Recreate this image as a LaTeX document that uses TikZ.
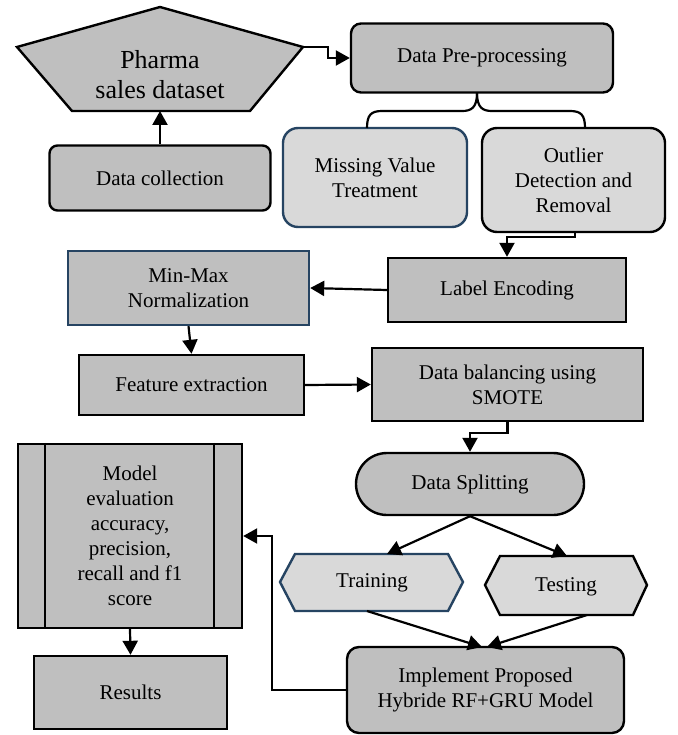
\documentclass[tikz,border=0pt]{standalone}
\usepackage{fontspec}
\setmainfont{Liberation Serif}
\usetikzlibrary{arrows.meta}
\definecolor{darkfill}{RGB}{191,191,191}
\definecolor{lightfill}{RGB}{217,217,217}
\definecolor{bluedge}{RGB}{38,68,98}
\begin{document}
\begin{tikzpicture}[x=1pt,y=-1pt,
  box/.style={draw, line width=2.4pt, fill=darkfill, align=center, inner sep=0pt,
    font=\fontsize{21}{25}\selectfont},
  lbox/.style={box, fill=lightfill},
  bedge/.style={draw=bluedge},
  txt/.style={align=center, inner sep=0pt, font=\fontsize{21}{25}\selectfont},
  conn/.style={line width=2.2pt, -{Triangle[length=14pt,width=15pt]}},
  plain/.style={line width=2.2pt},
]
\useasboundingbox[fill=white] (0,0) rectangle (677,735);

% pentagon
\filldraw[fill=darkfill, line width=2.4pt, line join=miter]
  (17,47) -- (160,7) -- (303,47) -- (250,111) -- (72,111) -- cycle;
\node[txt, font=\fontsize{26}{30}\selectfont] (pharma) at (160,75) {Pharma\\sales dataset};
\coordinate (pR) at (303,47);
\coordinate (pB) at (160,111);

\node[box, rounded corners=8pt, minimum width=221pt, minimum height=65pt] (collect) at (160,178) {Data collection};
\node[box, rounded corners=10pt, minimum width=262pt, minimum height=69pt] (prep) at (482,58) {Data Pre-processing};
\node[lbox, bedge, rounded corners=15pt, minimum width=184pt, minimum height=99pt] (missing) at (375,177.5) {Missing Value\\Treatment};
\node[lbox, rounded corners=15pt, minimum width=183pt, minimum height=104pt] (outlier) at (573.5,180) {Outlier\\Detection and\\Removal};
\node[box, minimum width=238pt, minimum height=64pt] (label) at (507,290) {Label Encoding};
\node[box, bedge, minimum width=241pt, minimum height=74pt] (minmax) at (188.5,288) {Min-Max\\Normalization};
\node[box, minimum width=225pt, minimum height=60pt] (feature) at (191.5,385) {Feature extraction};
\node[box, minimum width=271pt, minimum height=73pt] (balance) at (507.5,384.5) {Data balancing using\\SMOTE};
\node[box, rounded corners=31pt, minimum width=228pt, minimum height=62pt] (split) at (470,484) {Data Splitting};

% training / testing hexagons
\filldraw[fill=lightfill, draw=bluedge, line width=2.4pt]
  (280,582) -- (295,554) -- (448,554) -- (463,582) -- (448,611) -- (295,611) -- cycle;
\node[txt] (training) at (372,583) {Training};
\filldraw[fill=lightfill, line width=2.4pt]
  (485,585) -- (500,556) -- (633,556) -- (647,585) -- (633,615) -- (500,615) -- cycle;
\node[txt] (testing) at (566,587) {Testing};
\coordinate (trT) at (387,554);
\coordinate (trB) at (367,611);
\coordinate (teT) at (567,556);
\coordinate (teB) at (587,615);

\node[box, rounded corners=12pt, minimum width=277pt, minimum height=86pt] (implement) at (485.5,690) {Implement Proposed\\Hybride RF+GRU Model};
\node[box, minimum width=224pt, minimum height=184pt] (eval) at (130,536) {Model\\evaluation\\accuracy,\\precision,\\recall and f1\\score};
\draw[plain] ([xshift=28pt]eval.north west) -- ([xshift=28pt]eval.south west);
\draw[plain] ([xshift=-29pt]eval.north east) -- ([xshift=-29pt]eval.south east);
\node[box, minimum width=193pt, minimum height=73pt] (results) at (130.5,692.5) {Results};

% connectors
\draw[conn] (collect.north) -- (pB);
\draw[conn] (pR) -- ++(25,0) |- (prep.west);
\coordinate (tip) at (477,93);
\draw[plain] (tip) .. controls (477,108) and (471,111) .. (462,111) -- (382,111)
  .. controls (371,111) and (367,115) .. (367,128);
\draw[plain] (tip) .. controls (477,108) and (483,111) .. (492,111) -- (570,111)
  .. controls (581,111) and (585,115) .. (585,128);
\draw[conn] ([xshift=1.5pt]outlier.south) -- ++(0,4) -| (label.north);
\draw[conn] (label.west) -- (minmax.east);
\draw[conn] (minmax.south) -- (feature.north);
\draw[conn] (feature.east) -- (balance.west);
\draw[conn] (balance.south) -- ++(0,11) -| (split.north);
\draw[conn] (split.south) -- (trT);
\draw[conn] (split.south) -- (teT);
\draw[conn] (trB) -- (482,647);
\draw[conn] (teB) -- (487,647);
\draw[conn] (implement.west) -- ++(-74,0) |- (eval.east);
\draw[conn] (eval.south) -- (results.north);
\end{tikzpicture}
\end{document}
